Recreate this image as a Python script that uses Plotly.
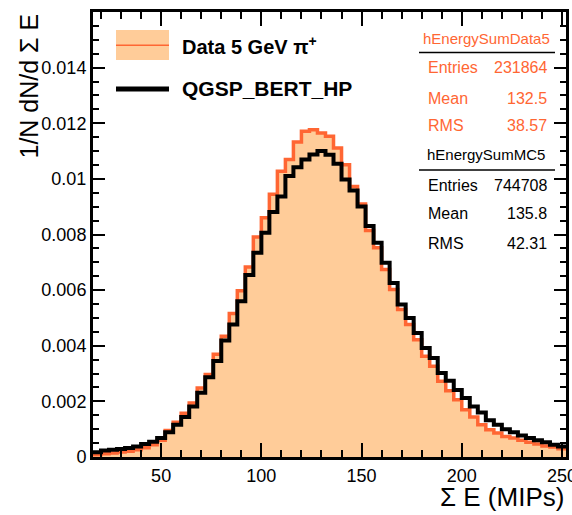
import plotly.graph_objects as go

# ---- data ----
bin_edges = list(range(16, 256, 4))  # 16 ... 252
data_values = [
    0.00008, 0.00012, 0.00014, 0.00018, 0.00021, 0.00026, 0.00033, 0.00044,
    0.00060, 0.00095, 0.00125, 0.00157, 0.00194, 0.00248, 0.00297, 0.00369,
    0.00434, 0.00516, 0.00598, 0.00683, 0.00791, 0.00860, 0.00945, 0.01027,
    0.01070, 0.01133, 0.01171, 0.01177, 0.01165, 0.01153, 0.01111, 0.01051,
    0.00973, 0.00910, 0.00814, 0.00752, 0.00674, 0.00602, 0.00530, 0.00476,
    0.00422, 0.00362, 0.00326, 0.00272, 0.00238, 0.00206, 0.00170, 0.00144,
    0.00116, 0.00098, 0.00086, 0.00074, 0.00068, 0.00060, 0.00053, 0.00047,
    0.00040, 0.00036, 0.00030,
]
mc_values = [
    0.00017, 0.00023, 0.00026, 0.00029, 0.00032, 0.00038, 0.00047, 0.00055,
    0.00068, 0.00089, 0.00116, 0.00144, 0.00182, 0.00231, 0.00287, 0.00345,
    0.00419, 0.00476, 0.00560, 0.00654, 0.00734, 0.00806, 0.00881, 0.00937,
    0.01010, 0.01042, 0.01070, 0.01088, 0.01100, 0.01087, 0.01054, 0.00998,
    0.00958, 0.00901, 0.00831, 0.00770, 0.00698, 0.00626, 0.00548, 0.00500,
    0.00446, 0.00392, 0.00356, 0.00302, 0.00274, 0.00241, 0.00212, 0.00182,
    0.00160, 0.00132, 0.00116, 0.00100, 0.00089, 0.00077, 0.00068, 0.00060,
    0.00053, 0.00044, 0.00038,
]
x_tick_vals = [50, 100, 150, 200, 250]
y_tick_vals = [0, 0.002, 0.004, 0.006, 0.008, 0.01, 0.012, 0.014]
y_tick_text = ["0", "0.002", "0.004", "0.006", "0.008", "0.01", "0.012", "0.014"]

data_stats = [("Entries", "231864"), ("Mean", "132.5"), ("RMS", "38.57")]
mc_stats = [("Entries", "744708"), ("Mean", "135.8"), ("RMS", "42.31")]

ORANGE = "#FF6633"
FILL = "#FFCC99"
FONT = "Liberation Sans, Arial, sans-serif"

W, H = 572, 515
L, R, T, B = 93, 6, 12, 58
PW, PH = W - L - R, H - T - B

def step_xy(edges, vals):
    return list(edges), list(vals) + [vals[-1]]

fig = go.Figure()
xd, yd = step_xy(bin_edges, data_values)
fig.add_trace(go.Scatter(x=xd, y=yd, mode="lines", line=dict(shape="hv", color=ORANGE, width=3.5),
                         fill="tozeroy", fillcolor=FILL, showlegend=False, hoverinfo="skip"))
xm, ym = step_xy(bin_edges, mc_values)
fig.add_trace(go.Scatter(x=xm, y=ym, mode="lines", line=dict(shape="hv", color="black", width=4),
                         showlegend=False, hoverinfo="skip"))

fig.update_layout(
    width=W, height=H, autosize=False,
    margin=dict(l=L, r=R, t=T, b=B, autoexpand=False),
    paper_bgcolor="white", plot_bgcolor="white",
    font=dict(family=FONT, color="black"),
    xaxis=dict(range=[16, 252], tickvals=x_tick_vals, ticks="inside", ticklen=14, tickwidth=1.5,
               tickcolor="black", showline=True, linewidth=3, linecolor="black", mirror="ticks",
               showgrid=False, zeroline=False, tickfont=dict(size=18, family=FONT),
               ticklabeloverflow="allow", automargin=False,
               minor=dict(dtick=10, tick0=0, ticks="inside", ticklen=7, tickwidth=1.5, tickcolor="black", showgrid=False)),
    yaxis=dict(range=[0, 0.016], tickvals=y_tick_vals, ticktext=y_tick_text, ticks="inside", ticklen=12,
               tickwidth=1.5, tickcolor="black", showline=True, linewidth=3, linecolor="black", mirror="ticks",
               showgrid=False, zeroline=False, tickfont=dict(size=18, family=FONT),
               ticklabeloverflow="allow", automargin=False,
               minor=dict(dtick=0.0005, tick0=0, ticks="inside", ticklen=6, tickwidth=1.5, tickcolor="black", showgrid=False)),
)

def px_x(p):
    return (p - L) / PW

def px_y(p):
    return 1 - (p - T) / PH

ann = []
shapes = []
# axis titles
ann.append(dict(text="Σ E (MIPs)", x=px_x(566), y=px_y(497), xref="paper", yref="paper",
                xanchor="right", yanchor="middle", showarrow=False, font=dict(size=26, family=FONT)))
ann.append(dict(text="1/N dN/d Σ E", x=px_x(28), y=px_y(12), xref="paper", yref="paper",
                xanchor="center", yanchor="top", textangle=-90, showarrow=False, font=dict(size=25, family=FONT)))

# legend
shapes.append(dict(type="rect", xref="paper", yref="paper", x0=px_x(116), x1=px_x(169), y0=px_y(60), y1=px_y(30),
                   fillcolor=FILL, line=dict(width=0)))
shapes.append(dict(type="line", xref="paper", yref="paper", x0=px_x(116), x1=px_x(169), y0=px_y(45.3), y1=px_y(45.3),
                   line=dict(color=ORANGE, width=1.5)))
shapes.append(dict(type="line", xref="paper", yref="paper", x0=px_x(116), x1=px_x(169), y0=px_y(89), y1=px_y(89),
                   line=dict(color="black", width=5)))
ann.append(dict(text="<b>Data 5 GeV π<sup>+</sup></b>", x=px_x(180), y=px_y(45), xref="paper", yref="paper",
                xanchor="left", yanchor="middle", showarrow=False, font=dict(size=20, family=FONT)))
ann.append(dict(text="<b>QGSP_BERT_HP</b>", x=px_x(180), y=px_y(88), xref="paper", yref="paper",
                xanchor="left", yanchor="middle", showarrow=False, font=dict(size=21, family=FONT)))

# stats boxes
def stats_block(title, rows, color, y_title, y_line, y_rows):
    ann.append(dict(text=title, x=px_x(486), y=px_y(y_title), xref="paper", yref="paper",
                    xanchor="center", yanchor="middle", showarrow=False, font=dict(size=15, family=FONT, color=color)))
    shapes.append(dict(type="line", xref="paper", yref="paper", x0=px_x(419), x1=px_x(555),
                       y0=px_y(y_line), y1=px_y(y_line), line=dict(color="black", width=1.5)))
    for (lab, val), yy in zip(rows, y_rows):
        ann.append(dict(text=lab, x=px_x(426), y=px_y(yy), xref="paper", yref="paper",
                        xanchor="left", yanchor="middle", showarrow=False, font=dict(size=16, family=FONT, color=color)))
        ann.append(dict(text=val, x=px_x(549), y=px_y(yy), xref="paper", yref="paper",
                        xanchor="right", yanchor="middle", showarrow=False, font=dict(size=16, family=FONT, color=color)))

stats_block("hEnergySumData5", data_stats, ORANGE, 38, 52.5, [68, 98, 125])
stats_block("hEnergySumMC5", mc_stats, "black", 155, 170, [185, 213, 243])

fig.update_layout(annotations=ann, shapes=shapes)
fig.write_html("out.html", config={"displayModeBar": False},
               post_script="document.body.style.margin='0px';document.body.style.overflow='hidden';")
